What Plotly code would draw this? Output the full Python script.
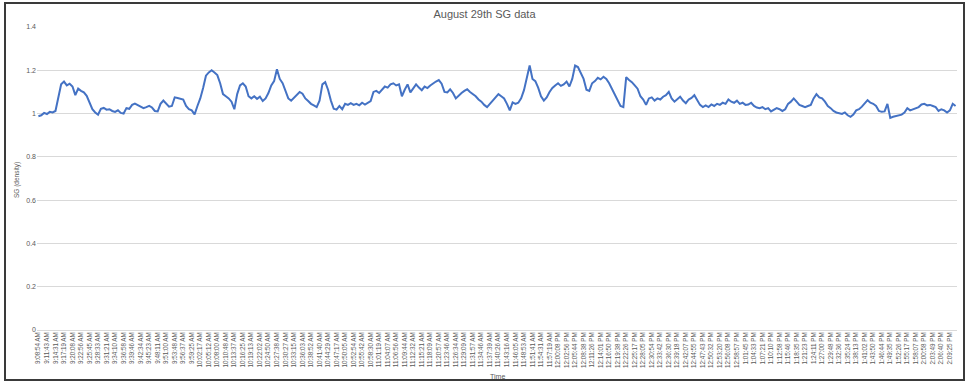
import plotly.graph_objects as go

# Tick labels (every 3rd sample)
time_labels = [
    "9:08:54 AM", "9:11:43 AM", "9:14:31 AM", "9:17:19 AM", "9:20:08 AM", "9:22:56 AM",
    "9:25:45 AM", "9:28:33 AM", "9:31:21 AM", "9:34:10 AM", "9:36:58 AM", "9:39:46 AM",
    "9:42:34 AM", "9:45:23 AM", "9:48:11 AM", "9:51:00 AM", "9:53:48 AM", "9:56:37 AM",
    "9:59:25 AM", "10:02:17 AM", "10:05:12 AM", "10:08:00 AM", "10:10:48 AM", "10:13:37 AM",
    "10:16:25 AM", "10:19:13 AM", "10:22:02 AM", "10:24:50 AM", "10:27:38 AM", "10:30:27 AM",
    "10:33:15 AM", "10:36:03 AM", "10:38:52 AM", "10:41:40 AM", "10:44:29 AM", "10:47:17 AM",
    "10:50:05 AM", "10:52:54 AM", "10:55:42 AM", "10:58:30 AM", "11:01:19 AM", "11:04:07 AM",
    "11:06:56 AM", "11:09:44 AM", "11:12:32 AM", "11:15:21 AM", "11:18:09 AM", "11:20:57 AM",
    "11:23:46 AM", "11:26:34 AM", "11:29:09 AM", "11:31:57 AM", "11:34:46 AM", "11:37:39 AM",
    "11:40:26 AM", "11:43:16 AM", "11:46:05 AM", "11:48:53 AM", "11:51:41 AM", "11:54:31 AM",
    "11:57:19 AM", "12:00:08 PM", "12:02:56 PM", "12:05:44 PM", "12:08:38 PM", "12:11:26 PM",
    "12:14:01 PM", "12:16:50 PM", "12:19:38 PM", "12:22:26 PM", "12:25:17 PM", "12:28:05 PM",
    "12:30:54 PM", "12:33:42 PM", "12:36:30 PM", "12:39:18 PM", "12:42:07 PM", "12:44:55 PM",
    "12:47:43 PM", "12:50:32 PM", "12:53:20 PM", "12:56:08 PM", "12:58:57 PM", "1:01:45 PM",
    "1:04:33 PM", "1:07:21 PM", "1:10:10 PM", "1:12:58 PM", "1:15:46 PM", "1:18:35 PM",
    "1:21:23 PM", "1:24:11 PM", "1:27:00 PM", "1:29:48 PM", "1:32:36 PM", "1:35:24 PM",
    "1:38:13 PM", "1:41:02 PM", "1:43:50 PM", "1:46:44 PM", "1:49:35 PM", "1:52:26 PM",
    "1:55:17 PM", "1:58:07 PM", "2:00:58 PM", "2:03:49 PM", "2:06:40 PM", "2:09:25 PM",
]

# SG (density) samples
sg_values = [
    0.988, 0.992, 1.003, 0.998, 1.008, 1.005, 1.012, 1.080, 1.135, 1.148,
    1.130, 1.138, 1.125, 1.085, 1.115, 1.105, 1.098, 1.082, 1.050, 1.020,
    1.005, 0.995, 1.022, 1.026, 1.018, 1.020, 1.012, 1.008, 1.015, 1.003,
    1.000, 1.025, 1.022, 1.040, 1.046, 1.038, 1.030, 1.025, 1.030, 1.036,
    1.028, 1.012, 1.010, 1.045, 1.060, 1.045, 1.032, 1.035, 1.075, 1.072,
    1.070, 1.065, 1.035, 1.020, 1.015, 0.996, 1.035, 1.070, 1.118, 1.175,
    1.190, 1.200, 1.190, 1.178, 1.140, 1.090, 1.080, 1.070, 1.055, 1.020,
    1.090, 1.130, 1.140, 1.125, 1.080, 1.070, 1.080, 1.068, 1.078, 1.058,
    1.070, 1.095, 1.130, 1.150, 1.205, 1.160, 1.140, 1.100, 1.070, 1.060,
    1.075, 1.090, 1.100, 1.092, 1.070, 1.058, 1.045, 1.038, 1.030, 1.060,
    1.135, 1.145, 1.110, 1.060, 1.022, 1.018, 1.035, 1.020, 1.045, 1.040,
    1.048, 1.040, 1.045, 1.038, 1.050, 1.042, 1.050, 1.058, 1.100, 1.105,
    1.095, 1.110, 1.125, 1.120, 1.135, 1.140, 1.130, 1.135, 1.080, 1.110,
    1.135, 1.098, 1.115, 1.135, 1.120, 1.108, 1.125, 1.118, 1.130, 1.140,
    1.148, 1.155, 1.138, 1.100, 1.098, 1.112, 1.095, 1.070, 1.085, 1.095,
    1.105, 1.112, 1.100, 1.092, 1.080, 1.065, 1.055, 1.040, 1.030, 1.045,
    1.060, 1.075, 1.090, 1.080, 1.070, 1.045, 1.015, 1.052, 1.045, 1.050,
    1.070, 1.108, 1.160, 1.222, 1.160, 1.150, 1.120, 1.080, 1.060, 1.075,
    1.100, 1.118, 1.130, 1.140, 1.128, 1.135, 1.148, 1.125, 1.160, 1.222,
    1.215, 1.190, 1.160, 1.110, 1.105, 1.140, 1.150, 1.165, 1.158, 1.170,
    1.160, 1.140, 1.115, 1.085, 1.060, 1.035, 1.030, 1.168, 1.155, 1.145,
    1.130, 1.115, 1.080, 1.065, 1.040, 1.070, 1.075, 1.060, 1.070, 1.065,
    1.078, 1.085, 1.100, 1.070, 1.055, 1.065, 1.078, 1.060, 1.048, 1.065,
    1.072, 1.085, 1.065, 1.040, 1.030, 1.038, 1.030, 1.042, 1.035, 1.045,
    1.040, 1.050, 1.045, 1.065, 1.055, 1.050, 1.060, 1.045, 1.050, 1.040,
    1.042, 1.050, 1.035, 1.028, 1.025, 1.030, 1.020, 1.025, 1.010, 1.018,
    1.025, 1.020, 1.012, 1.020, 1.045, 1.055, 1.070, 1.055, 1.040, 1.035,
    1.030, 1.035, 1.040, 1.070, 1.090, 1.075, 1.070, 1.055, 1.035, 1.025,
    1.012, 1.005, 1.000, 0.998, 1.005, 0.992, 0.985, 0.995, 1.015, 1.020,
    1.032, 1.045, 1.062, 1.050, 1.045, 1.035, 1.012, 1.008, 1.010, 1.045,
    0.980, 0.985, 0.988, 0.990, 0.995, 1.005, 1.025, 1.015, 1.020, 1.022,
    1.030, 1.042, 1.045, 1.038, 1.040, 1.035, 1.030, 1.012, 1.020, 1.015,
    1.005, 1.015, 1.045, 1.035,
]

label_step = 3
n = len(sg_values)
x_idx = list(range(n))
tick_positions = [i * label_step for i in range(len(time_labels))]

fig = go.Figure()
fig.add_trace(go.Scatter(
    x=x_idx, y=sg_values, mode="lines",
    line=dict(color="#4472C4", width=2),
    showlegend=False, hoverinfo="y",
))

W, H = 969, 383
L, R, T, B = 37, 12, 27, 53
pw, ph = W - L - R, H - T - B

def px(xp):
    return (xp - L) / pw

def py(yp):
    return (H - B - yp) / ph

fig.update_layout(
    width=W, height=H,
    margin=dict(l=L, r=R, t=T, b=B, autoexpand=False),
    paper_bgcolor="white", plot_bgcolor="white",
    font=dict(family="Liberation Sans, Arial, sans-serif", color="#595959"),
    title=dict(text="August 29th SG data", x=0.5, xanchor="center",
               y=1 - 14 / H, yanchor="middle",
               font=dict(size=11, color="#595959")),
    xaxis=dict(
        range=[-0.5, n - 0.5], tickmode="array",
        tickvals=tick_positions, ticktext=time_labels,
        tickangle=-90, tickfont=dict(size=6.3, color="#595959"),
        showgrid=False, zeroline=False, showline=False, ticks="",
        automargin=False, fixedrange=True,
    ),
    yaxis=dict(
        range=[0, 1.4], tickvals=[0, 0.2, 0.4, 0.6, 0.8, 1, 1.2, 1.4],
        ticktext=["0", "0.2", "0.4", "0.6", "0.8", "1", "1.2", "1.4"],
        tickfont=dict(size=7, color="#595959"),
        showgrid=True, gridcolor="#d9d9d9", gridwidth=1,
        zeroline=True, zerolinecolor="#d9d9d9", zerolinewidth=1,
        showline=False, ticks="", automargin=False, fixedrange=True,
    ),
    shapes=[dict(
        type="rect", xref="paper", yref="paper", layer="below",
        x0=px(5), x1=px(964), y0=py(380), y1=py(3),
        line=dict(color="#3a3a3a", width=2), fillcolor="white",
    )],
    annotations=[
        dict(text="SG (density)", xref="paper", yref="paper",
             x=px(17), y=py(180), textangle=-90, showarrow=False,
             xanchor="center", yanchor="middle",
             font=dict(size=6.5, color="#595959")),
        dict(text="Time", xref="paper", yref="paper",
             x=px(497), y=py(376), showarrow=False,
             xanchor="center", yanchor="middle",
             font=dict(size=7, color="#595959")),
    ],
)

fig.write_html(
    "out.html",
    config={"displayModeBar": False},
    post_script="document.body.style.margin='0';document.body.style.padding='0';",
)
